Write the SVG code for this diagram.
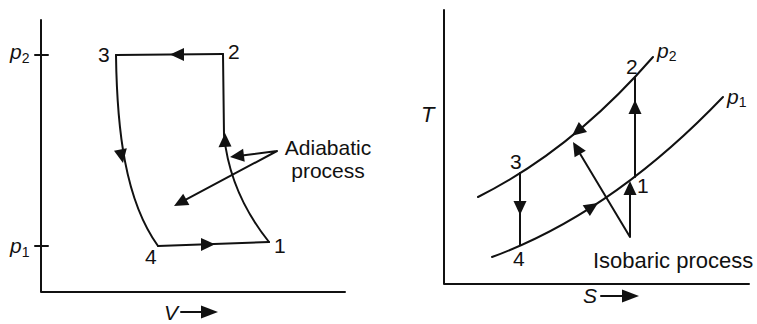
<svg xmlns="http://www.w3.org/2000/svg" width="757" height="324" viewBox="0 0 757 324">
<style>
.ln{fill:none;stroke:#111;stroke-width:2;stroke-linecap:round;stroke-linejoin:round}
.ah{fill:#111;stroke:none}
text{font-family:"Liberation Sans",Arial,sans-serif;fill:#111}
.num{font-size:21px}
.it{font-style:italic}
.lb{font-size:21px}
</style>
<rect width="757" height="324" fill="#fff"/>
<g id="pv-axes">
<path class="ln" d="M41,20 V292 H345"/>
<path class="ln" d="M35,55 H48 M35,246 H48"/>
<text x="10" y="59" font-size="21" class="it">p<tspan font-size="14" font-style="normal" dy="4">2</tspan></text>
<text x="10" y="253" font-size="21" class="it">p<tspan font-size="14" font-style="normal" dy="4">1</tspan></text>
<text x="164" y="320" font-size="21" class="it">V</text>
<path class="ln" d="M181,312 H202"/>
<polygon class="ah" points="218,312 201,305.5 201,318.5"/>
</g>
<g id="pv-cycle">
<path class="ln" d="M116,55 L223,54"/>
<path class="ln" d="M116,55 C117,130 125,200 158,246"/>
<path class="ln" d="M158,246 L269,242"/>
<path class="ln" d="M269,242 C245,212 228,175 224,135 L223,54"/>
<polygon class="ah" points="170,54.5 184,48 184,61"/>
<polygon class="ah" points="123,163 114,150.8 126.8,148.2"/>
<polygon class="ah" points="215,244.3 201,238 201,251"/>
<polygon class="ah" points="225,133 218.5,147.3 231.5,146.5"/>
</g>
<g id="pv-points">
<text x="98" y="62" class="num">3</text>
<text x="228" y="59" class="num">2</text>
<text x="274" y="253" class="num">1</text>
<text x="145" y="264" class="num">4</text>
</g>
<g id="pv-note">
<text x="328" y="155" class="lb" text-anchor="middle">Adiabatic</text>
<text x="328" y="178" class="lb" text-anchor="middle">process</text>
<path class="ln" d="M277,151 L244,155.2 M277,151 L186.3,199.4"/>
<polygon class="ah" points="230,157 244.7,161.7 243.1,148.8"/>
<polygon class="ah" points="174,206 189.4,205.1 183.2,193.7"/>
</g>
<g id="ts-axes">
<path class="ln" d="M444,10 V284 H749"/>
<text x="421" y="122" font-size="22" class="it">T</text>
<text x="583" y="303" font-size="21" class="it">S</text>
<path class="ln" d="M601,296 H624"/>
<polygon class="ah" points="639,296 622,289.5 622,302.5"/>
</g>
<g id="ts-cycle">
<path class="ln" d="M478,197 Q572,150 653,57"/>
<path class="ln" d="M492,257 Q612,213 723,97"/>
<path class="ln" d="M520,173 V245"/>
<path class="ln" d="M635,177 V77"/>
<polygon class="ah" points="520,215 513.5,201 526.5,201"/>
<polygon class="ah" points="635,100 628.5,114 641.5,114"/>
<polygon class="ah" points="572,135.7 587,131.9 578.8,121.9"/>
<polygon class="ah" points="598,203 589.9,216.1 582.7,205.3"/>
</g>
<g id="ts-points">
<text x="626" y="74" class="num">2</text>
<text x="510" y="169" class="num">3</text>
<text x="637" y="193" class="num">1</text>
<text x="513" y="266" class="num">4</text>
<text x="657" y="58" font-size="21" class="it">p<tspan font-size="14" font-style="normal" dy="3">2</tspan></text>
<text x="727" y="104" font-size="21" class="it">p<tspan font-size="14" font-style="normal" dy="3">1</tspan></text>
</g>
<g id="ts-note">
<text x="593" y="268" font-size="22">Isobaric process</text>
<path class="ln" d="M630,237 L580.2,154 M630,237 V195"/>
<polygon class="ah" points="573,142 585.8,150.7 574.6,157.3"/>
<polygon class="ah" points="630,181 623.5,195 636.5,195"/>
</g>
</svg>
